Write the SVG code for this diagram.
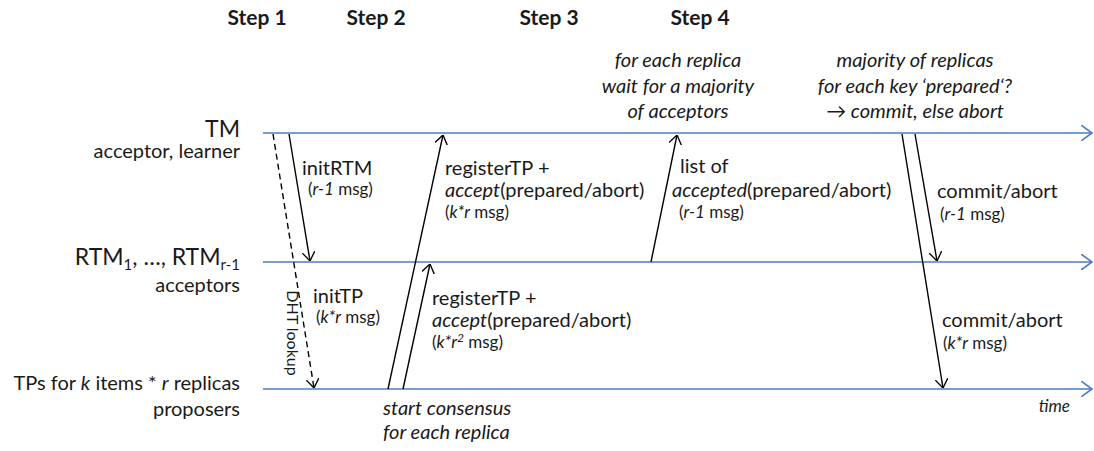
<svg xmlns="http://www.w3.org/2000/svg" width="1094" height="451" viewBox="0 0 1094 451">
<style>
text{font-family:Lato,"Open Sans","Liberation Sans",sans-serif;fill:#1a1a1a}
.h{font-weight:bold;font-size:21px;text-anchor:middle}
.l{font-size:20px}
.b{font-size:23px}
.s{font-size:17px}
.r{text-anchor:end}
.c{text-anchor:middle}
.i{font-style:italic}
.tl{stroke:#4a7ebb;stroke-width:1.6;fill:none;marker-end:url(#ab)}
.m{stroke:#000;stroke-width:1.4;fill:none;marker-end:url(#ak)}
.d{stroke-dasharray:6 4}
</style>
<defs>
<marker id="ak" viewBox="0 0 10 14" refX="10" refY="7" markerWidth="9" markerHeight="13" markerUnits="userSpaceOnUse" orient="auto"><path d="M0,0 L10,7 L0,14" fill="none" stroke="#000" stroke-width="1.5"/></marker>
<marker id="ab" viewBox="0 0 12 16" refX="11" refY="8" markerWidth="12" markerHeight="16" markerUnits="userSpaceOnUse" orient="auto"><path d="M0,0 L11,8 L0,16" fill="none" stroke="#4a7ebb" stroke-width="1.6"/></marker>
</defs>
<g id="headers">
<text class="h" x="257" y="25">Step 1</text>
<text class="h" x="376" y="25">Step 2</text>
<text class="h" x="549" y="25">Step 3</text>
<text class="h" x="700" y="25">Step 4</text>
</g>
<g id="tm">
<line class="tl" x1="263" y1="133" x2="1092" y2="133"/>
<text class="b r" x="240" y="137">TM</text>
<text class="l r" x="240" y="158">acceptor, learner</text>
</g>
<g id="rtm">
<line class="tl" x1="263" y1="262" x2="1092" y2="262"/>
<text class="b r" x="240" y="265">RTM<tspan font-size="15" dy="5">1</tspan><tspan dy="-5">, …, RTM</tspan><tspan font-size="15" dy="5">r-1</tspan></text>
<text class="l r" x="240" y="292">acceptors</text>
</g>
<g id="tp">
<line class="tl" x1="263" y1="389" x2="1092" y2="389"/>
<text class="l r" x="240" y="390">TPs for <tspan class="i">k</tspan> items * <tspan class="i">r</tspan> replicas</text>
<text class="l r" x="240" y="416">proposers</text>
<text class="i" x="1070" y="412" text-anchor="end" style="font-size:17px">time</text>
</g>
<g id="step3note">
<text class="l i c" x="678" y="67">for each replica</text>
<text class="l i c" x="678" y="93">wait for a majority</text>
<text class="l i c" x="678" y="118">of acceptors</text>
</g>
<g id="step4note">
<text class="l i c" x="915" y="67">majority of replicas</text>
<text class="l i c" x="915" y="93">for each key ‘prepared‘?</text>
<text class="l i c" x="915" y="118"><tspan font-style="normal">→</tspan> commit, else abort</text>
</g>
<g id="consensus">
<text class="l i" x="383" y="415">start consensus</text>
<text class="l i" x="383" y="439">for each replica</text>
</g>
<g id="connectors">
<line class="m d" x1="273" y1="134" x2="314" y2="388"/>
<line class="m" x1="289" y1="134" x2="310" y2="261"/>
<line class="m" x1="388" y1="389" x2="443" y2="135"/>
<line class="m" x1="403" y1="389" x2="430" y2="264"/>
<line class="m" x1="651" y1="262" x2="677" y2="135"/>
<line class="m" x1="902" y1="134" x2="943" y2="388"/>
<line class="m" x1="915" y1="134" x2="937" y2="261"/>
</g>
<g id="labels">
<text class="l" x="302" y="175">initRTM</text>
<text class="s" x="308" y="195">(<tspan class="i">r-1</tspan> msg)</text>
<text class="l" x="313" y="303">initTP</text>
<text class="s" x="316" y="323">(<tspan class="i">k*r</tspan> msg)</text>
<text class="s" transform="translate(287,333) rotate(90)" text-anchor="middle" style="font-size:16px">DHT lookup</text>
<text class="l" x="445" y="175">registerTP +</text>
<text class="l" x="445" y="197"><tspan class="i">accept</tspan>(prepared/abort)</text>
<text class="s" x="445" y="218">(<tspan class="i">k*r</tspan> msg)</text>
<text class="l" x="432" y="305">registerTP +</text>
<text class="l" x="432" y="327"><tspan class="i">accept</tspan>(prepared/abort)</text>
<text class="s" x="432" y="348">(<tspan class="i">k*r<tspan font-size="12" dy="-6">2</tspan></tspan><tspan dy="6"> msg)</tspan></text>
<text class="l" x="680" y="173">list of</text>
<text class="l" x="672" y="197"><tspan class="i">accepted</tspan>(prepared/abort)</text>
<text class="s" x="679" y="218">(<tspan class="i">r-1</tspan> msg)</text>
<text class="l" x="937" y="198">commit/abort</text>
<text class="s" x="940" y="220">(<tspan class="i">r-1</tspan> msg)</text>
<text class="l" x="942" y="327">commit/abort</text>
<text class="s" x="943" y="349">(<tspan class="i">k*r</tspan> msg)</text>
</g>
</svg>
